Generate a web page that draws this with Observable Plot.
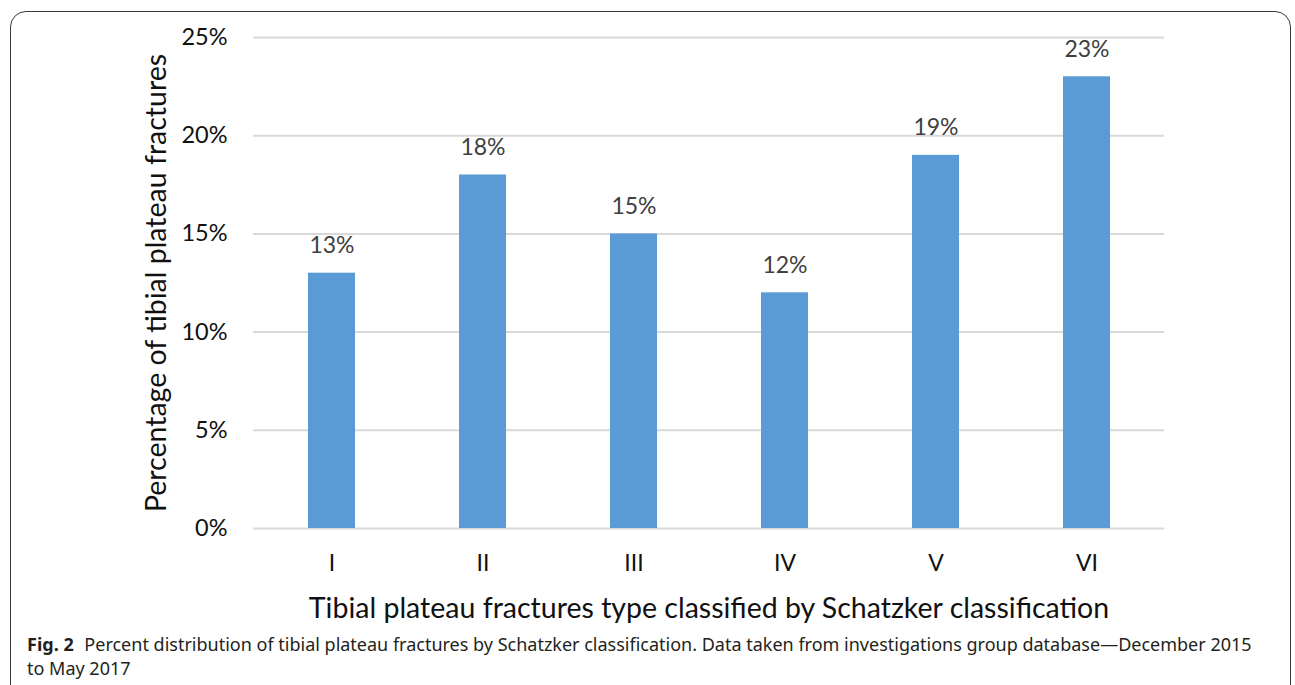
<!DOCTYPE html>
<html>
<head>
<meta charset="utf-8">
<script src="https://cdn.jsdelivr.net/npm/d3@7"></script>
<script src="https://cdn.jsdelivr.net/npm/@observablehq/plot@0.6"></script>
<style>
  html, body { margin: 0; padding: 0; background: #fff; }
  body { width: 1295px; height: 685px; position: relative; overflow: hidden; }
  #frame { position: absolute; left: 10px; top: 11px; width: 1281px; height: 700px;
           border: 1.5px solid #3a3a3a; border-radius: 16px; box-sizing: border-box; }
  #chart { position: absolute; left: 0; top: 0; }
  #caption { position: absolute; left: 27px; top: 632px; width: 1260px;
             font-family: "Noto Sans", sans-serif; font-size: 18px; line-height: 24px; color: #231f20; }
  #caption b { font-weight: 700; margin-right: 6px; }
</style>
</head>
<body>
<div id="frame"></div>
<div id="chart"></div>
<div id="caption"><b>Fig. 2</b> Percent distribution of tibial plateau fractures by Schatzker classification. Data taken from investigations group database—December 2015<br>to May 2017</div>
<script>
const categories = ["I", "II", "III", "IV", "V", "VI"];
const percents = [13, 18, 15, 12, 19, 23];
const yTicks = [0, 5, 10, 15, 20, 25];
const yTitle = "Percentage of tibial plateau fractures";
const xTitle = "Tibial plateau fractures type classified by Schatzker classification";

const data = categories.map((c, i) => ({type: c, pct: percents[i]}));

const chart = Plot.plot({
  width: 1295,
  height: 630,
  marginLeft: 253,
  marginRight: 131,
  marginTop: 37,
  marginBottom: 102,
  style: {fontFamily: "Lato, 'Open Sans', sans-serif", background: "transparent"},
  x: {domain: categories, paddingInner: 0.69, paddingOuter: 0.345, label: null},
  y: {domain: [0, 25], ticks: yTicks, label: null},
  marks: [
    Plot.ruleY(yTicks, {stroke: "#d9d9d9", strokeWidth: 2}),
    Plot.barY(data, {x: "type", y: "pct", fill: "#5b9bd5"}),
    Plot.text(data, {x: "type", y: "pct", text: d => d.pct + "%", dy: -20, lineAnchor: "bottom",
                     fontSize: 23, fill: "#404040"}),
    Plot.axisY({ticks: yTicks, tickSize: 0, tickPadding: 26, tickFormat: d => d + "%",
                fontSize: 23.5, fill: "#111", label: null}),
    Plot.axisX({tickSize: 0, tickPadding: 26, fontSize: 23, fill: "#111", label: null}),
    Plot.text([yTitle], {frameAnchor: "left", dx: -97, rotate: -90, fontSize: 28.5, fill: "#111",
                         textAnchor: "middle", lineAnchor: "middle"}),
    Plot.text([xTitle], {frameAnchor: "bottom", dy: 80, fontSize: 28.5, fill: "#111",
                         textAnchor: "middle", lineAnchor: "middle"})
  ]
});
document.getElementById("chart").appendChild(chart);
</script>
</body>
</html>
